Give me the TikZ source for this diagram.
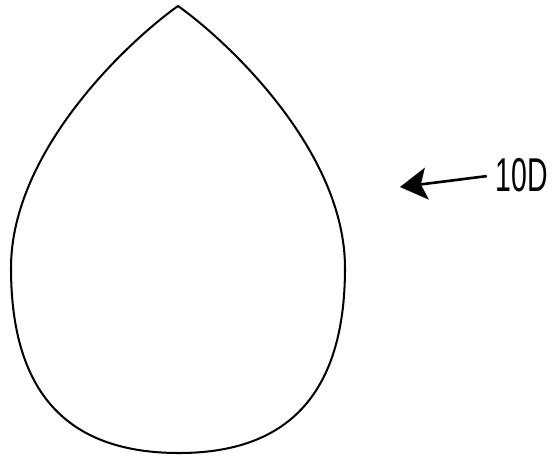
\documentclass[tikz,border=0pt]{standalone}
\usepackage{fontspec}
\setsansfont{Liberation Sans}
\usetikzlibrary{arrows.meta,positioning}
\definecolor{outline}{HTML}{000000}

\begin{document}
\begin{tikzpicture}[x=0.02cm,y=-0.02cm,>={Stealth[length=5.4mm,width=6.4mm,inset=1.2mm]},
  dropline/.style={outline,line width=1.15pt,line join=miter},
  reflabel/.style={font=\sffamily\fontsize{27}{27}\selectfont,xscale=0.6,inner sep=0pt}]
% Teardrop outline with its reference numeral; pixel coordinates.
\useasboundingbox (0,0) rectangle (554,461);
\draw[dropline] (178,6) .. controls (130,40) and (11,150) .. (11,268)
  .. controls (11,398) and (72,453) .. (179,453)
  .. controls (284,453) and (345,398) .. (345,268)
  .. controls (345,150) and (226,40) .. (178,6) -- cycle;
\node[reflabel] (lbl) at (522,175) {10D};
\coordinate (tip) at (400,187);
\draw[->,line width=1.5pt,shorten <=0.18cm] (lbl.west) -- (tip);
\end{tikzpicture}
\end{document}
